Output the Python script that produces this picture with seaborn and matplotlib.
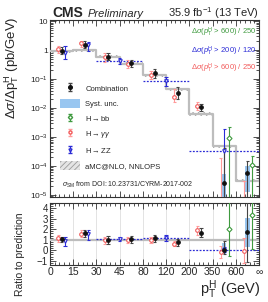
import numpy as np
import matplotlib
matplotlib.use("Agg")
import matplotlib.pyplot as plt
from matplotlib.patches import Patch, Rectangle
from matplotlib.ticker import MultipleLocator, FixedLocator, LogLocator, NullFormatter
import seaborn as sns

sns.set_theme(style="ticks")
plt.rcParams["font.family"] = ["Liberation Sans", "DejaVu Sans"]
plt.rcParams["mathtext.fontset"] = "custom"
plt.rcParams["mathtext.rm"] = "Liberation Sans"
plt.rcParams["mathtext.it"] = "Liberation Sans:italic"
plt.rcParams["mathtext.bf"] = "Liberation Sans:bold"
plt.rcParams["hatch.linewidth"] = 0.6

# =========================
# DATA
# =========================
edge_labels = ["0", "15", "30", "45", "80", "120", "200", "350", "600", "∞"]

# prediction per bin, last bin is sigma(pT>600)/250
pred = [0.9, 1.0, 0.6, 0.34, 0.137, 0.044, 0.0063, 4.8e-4, 3.1e-5]
pred_unc = [0.12, 0.12, 0.12, 0.12, 0.13, 0.13, 0.15, 0.15, 0.15]

# combination, main panel (nan = runs below the axis)
comb_main = [0.95, 1.52, 0.6, 0.36, 0.157, 0.033, 0.0106, 2.5e-5, 5.7e-5]
comb_main_hi = [1.3, 2.0, 0.8, 0.45, 0.22, 0.052, 0.0137, 4.2e-4, 1.5e-4]
comb_main_lo = [0.72, 1.17, 0.45, 0.27, 0.108, 0.02, 0.008, np.nan, np.nan]
comb_syst_bins = [7, 8]
comb_syst_main_hi = [5.3e-5, 1.0e-4]
comb_syst_main_lo = [np.nan, 1.3e-5]

# H->gamma gamma, main panel
gg_main = [1.1, 1.7, 0.56, 0.33, 0.14, 0.025, 0.012, np.nan, np.nan]
gg_main_hi = [1.4, 2.1, 0.77, 0.44, 0.19, 0.045, 0.0158, 1.9e-4, 3.0e-5]
gg_main_lo = [0.77, 1.3, 0.4, 0.24, 0.1, 0.016, 0.0087, np.nan, np.nan]

# H->ZZ, main panel (merged bins 30-80, 80-200, >200/120)
zz_lo_edge = [0, 1, 2, 4, 6]
zz_hi_edge = [1, 2, 4, 6, 9]
zz_pos = [0.65, 1.65, 3.0, 5.0, 7.5]
zz_main = [0.77, 1.5, 0.43, 0.087, 3.3e-4]
zz_main_hi = [1.37, 1.86, 0.53, 0.114, 1.9e-3]
zz_main_lo = [0.49, 0.96, 0.34, 0.059, np.nan]

# H->bb, main panel (350-600 and >600/250)
bb_pos = [7.72, 8.72]
bb_main = [9e-4, 1.1e-4]
bb_main_hi = [2.2e-3, 2.3e-4]
bb_main_lo = [np.nan, np.nan]

# ratio panel
comb_r = [1.07, 1.63, 1.0, 1.06, 1.16, 0.75, 1.69, 0.05, 1.78]
comb_r_hi = [1.31, 1.94, 1.38, 1.38, 1.47, 1.07, 2.1, 0.84, 5.0]
comb_r_lo = [0.78, 1.31, 0.62, 0.72, 0.78, 0.43, 1.25, -0.4, -1.1]
comb_syst_r_hi = [0.7, 3.05]
comb_syst_r_lo = [-0.35, 0.35]

gg_r = [1.16, 1.57, 1.0, 1.0, 1.0, 0.62, 1.94, -0.2, -0.05]
gg_r_hi = [1.47, 1.94, 1.31, 1.31, 1.3, 0.93, 2.35, 0.37, 1.16]
gg_r_lo = [0.78, 1.25, 0.62, 0.7, 0.7, 0.37, 1.47, -0.7, -1.2]

zz_r = [0.84, 1.57, 1.06, 1.16, 0.06]
zz_r_hi = [1.25, 1.94, 1.31, 1.47, 0.35]
zz_r_lo = [0.43, 1.0, 0.84, 0.84, -0.2]

bb_r = [2.03, 3.36]
bb_r_hi = [5.0, 5.0]
bb_r_lo = [-0.55, 0.12]

# =========================
# STYLE
# =========================
C_COMB = "#111111"
C_COMB_ERR = "#444444"
C_SYST = "#99c6f0"
C_GG = "#f25a5a"
C_GG_ERR = "#ff9a9a"
C_ZZ = "#2b2bd6"
C_BB = "#3f9a3f"
C_PRED = "#bdbdbd"
C_HATCH = "#9a9a9a"

centers = np.arange(9) + 0.5
edges = np.arange(10)


def draw_points(ax, x, y, lo, hi, color, ecolor, marker, filled, floor):
    x = np.asarray(x, float)
    lo = np.where(np.isnan(lo), floor, lo)
    ax.vlines(x, lo, hi, color=ecolor, lw=0.8, zorder=5)
    ax.hlines(hi, x - 0.07, x + 0.07, color=ecolor, lw=0.8, zorder=5)
    keep = lo > floor
    ax.hlines(lo[keep], x[keep] - 0.07, x[keep] + 0.07, color=ecolor, lw=0.8, zorder=5)
    ax.plot(x, y, ls="none", marker=marker, ms=2.6, mew=0.8, color=color,
            mfc=color if filled else "white", zorder=6)


def draw_pred(ax, vals, unc, log):
    vals = np.asarray(vals, float)
    unc = np.asarray(unc, float)
    ext = np.append(vals, vals[-1])
    if log:
        lo = np.append(vals / (1 + unc), vals[-1] / (1 + unc[-1]))
        hi = np.append(vals * (1 + unc), vals[-1] * (1 + unc[-1]))
    else:
        lo = np.append(vals - unc, vals[-1] - unc[-1])
        hi = np.append(vals + unc, vals[-1] + unc[-1])
    ax.fill_between(edges, lo, hi, step="post", facecolor="none",
                    edgecolor=C_HATCH, hatch="//////", lw=0, zorder=2)
    sns.lineplot(x=edges, y=ext, drawstyle="steps-post", color=C_PRED,
                 lw=1.6, ax=ax, zorder=3)


fig = plt.figure(figsize=(2.68, 3.02), dpi=100)
ax1 = fig.add_axes([0.1866, 0.3477, 0.7798, 0.5861])
ax2 = fig.add_axes([0.1866, 0.1225, 0.7798, 0.2053])

# =========================
# MAIN PANEL
# =========================
ax1.set_yscale("log")
FLOOR = 1e-9
draw_pred(ax1, pred, pred_unc, log=True)

for lo_e, hi_e, v in zip(zz_lo_edge[2:], zz_hi_edge[2:], zz_main[2:]):
    ax1.hlines(v, lo_e, hi_e, color=C_ZZ, lw=0.9, ls=(0, (1.5, 1.2)), zorder=4)

for b, shi, slo in zip(comb_syst_bins, comb_syst_main_hi, comb_syst_main_lo):
    slo = FLOOR if np.isnan(slo) else slo
    ax1.add_patch(Rectangle((centers[b] - 0.1, slo), 0.2, shi - slo,
                            facecolor=C_SYST, edgecolor="none", zorder=4))

draw_points(ax1, centers - 0.15, gg_main, np.array(gg_main_lo), gg_main_hi,
            C_GG, C_GG_ERR, "o", False, FLOOR)
draw_points(ax1, zz_pos, zz_main, np.array(zz_main_lo), zz_main_hi,
            C_ZZ, C_ZZ, "v", False, FLOOR)
draw_points(ax1, bb_pos, bb_main, np.array(bb_main_lo), bb_main_hi,
            C_BB, C_BB, "D", False, FLOOR)
draw_points(ax1, centers, comb_main, np.array(comb_main_lo), comb_main_hi,
            C_COMB, C_COMB_ERR, "o", True, FLOOR)

ax1.set_xlim(0, 9)
ax1.set_ylim(8.5e-6, 11)
ax1.set_xlabel("")
ax1.set_ylabel("")
ax1.yaxis.set_major_locator(FixedLocator([1e-5, 1e-4, 1e-3, 1e-2, 1e-1, 1, 10]))
ax1.set_yticklabels([r"$10^{-5}$", r"$10^{-4}$", r"$10^{-3}$", r"$10^{-2}$",
                     r"$10^{-1}$", "1", "10"])
ax1.yaxis.set_minor_locator(LogLocator(base=10, subs=np.arange(2, 10), numticks=20))
ax1.yaxis.set_minor_formatter(NullFormatter())
ax1.xaxis.set_major_locator(MultipleLocator(1))
ax1.xaxis.set_minor_locator(MultipleLocator(0.2))
ax1.set_xticklabels([])

# legend
h_comb = ax1.errorbar([np.nan], [np.nan], yerr=[[1], [1]], fmt="o", ms=2.6,
                      color=C_COMB, ecolor=C_COMB_ERR, elinewidth=0.8, capsize=1.5)
h_bb = ax1.errorbar([np.nan], [np.nan], yerr=[[1], [1]], fmt="D", ms=2.2,
                    color=C_BB, mfc="white", elinewidth=0.8, capsize=1.5)
h_gg = ax1.errorbar([np.nan], [np.nan], yerr=[[1], [1]], fmt="o", ms=2.2,
                    color=C_GG, mfc="white", ecolor=C_GG_ERR, elinewidth=0.8, capsize=1.5)
h_zz = ax1.errorbar([np.nan], [np.nan], yerr=[[1], [1]], fmt="v", ms=2.2,
                    color=C_ZZ, mfc="white", elinewidth=0.8, capsize=1.5)
h_syst = Patch(facecolor=C_SYST, edgecolor="none")
h_pred = Patch(facecolor="#e4e4e4", edgecolor=C_HATCH, hatch="//////", lw=0)
leg = ax1.legend([h_comb, h_syst, h_bb, h_gg, h_zz, h_pred],
                 ["Combination", "Syst. unc.", r"H$\rightarrow$bb",
                  r"H$\rightarrow\gamma\gamma$", r"H$\rightarrow$ZZ",
                  "aMC@NLO, NNLOPS"],
                 loc="upper left", bbox_to_anchor=(0.048, 0.64), frameon=False,
                 fontsize=5.5, handlelength=2.6, handleheight=1.4,
                 labelspacing=0.8, handletextpad=0.7, borderpad=0,
                 borderaxespad=0)

ax1.text(0.056, 0.068, r"$\sigma_{\rm SM}$ from DOI: 10.23731/CYRM-2017-002",
         transform=ax1.transAxes, fontsize=5, va="center", ha="left")

ax1.text(0.99, 0.932, r"$\Delta\sigma(p_{\rm T}^{\rm H}$ > 600) / 250",
         transform=ax1.transAxes, color=C_BB, fontsize=5.5, ha="right", va="center")
ax1.text(0.99, 0.821, r"$\Delta\sigma(p_{\rm T}^{\rm H}$ > 200) / 120",
         transform=ax1.transAxes, color=C_ZZ, fontsize=5.5, ha="right", va="center")
ax1.text(0.99, 0.727, r"$\Delta\sigma(p_{\rm T}^{\rm H}$ > 600) / 250",
         transform=ax1.transAxes, color=C_GG, fontsize=5.5, ha="right", va="center")

# =========================
# RATIO PANEL
# =========================
ratio_unc = [0.12] * 9
draw_pred(ax2, [1.0] * 9, ratio_unc, log=False)

for lo_e, hi_e, v in zip(zz_lo_edge[2:], zz_hi_edge[2:], zz_r[2:]):
    ax2.hlines(v, lo_e, hi_e, color=C_ZZ, lw=0.9, ls=(0, (1.5, 1.2)), zorder=4)

for b, shi, slo in zip(comb_syst_bins, comb_syst_r_hi, comb_syst_r_lo):
    ax2.add_patch(Rectangle((centers[b] - 0.1, slo), 0.2, shi - slo,
                            facecolor=C_SYST, edgecolor="none", zorder=4))

draw_points(ax2, centers - 0.15, gg_r, np.array(gg_r_lo), gg_r_hi,
            C_GG, C_GG_ERR, "o", False, -99)
draw_points(ax2, zz_pos, zz_r, np.array(zz_r_lo), zz_r_hi,
            C_ZZ, C_ZZ, "v", False, -99)
draw_points(ax2, bb_pos, bb_r, np.array(bb_r_lo), bb_r_hi,
            C_BB, C_BB, "D", False, -99)
draw_points(ax2, centers, comb_r, np.array(comb_r_lo), comb_r_hi,
            C_COMB, C_COMB_ERR, "o", True, -99)

ax2.set_xlim(0, 9)
ax2.set_ylim(-1.4, 4.5)
ax2.set_xlabel("")
ax2.set_ylabel("")
ax2.xaxis.set_major_locator(FixedLocator(edges))
ax2.set_xticklabels(edge_labels)
ax2.xaxis.set_minor_locator(MultipleLocator(0.2))
ax2.yaxis.set_major_locator(MultipleLocator(1))
ax2.yaxis.set_minor_locator(MultipleLocator(0.2))
ax2.grid(axis="x", which="major", color="#dedede", lw=0.6, zorder=0)

for ax in (ax1, ax2):
    ax.tick_params(which="both", direction="in", top=True, right=True,
                   width=0.6, color="#333333")
    ax.tick_params(which="major", length=4)
    ax.tick_params(which="minor", length=2)
    for sp in ax.spines.values():
        sp.set_color("#333333")
        sp.set_linewidth(0.8)
ax1.tick_params(axis="y", labelsize=6, pad=1.5)
ax2.tick_params(axis="y", labelsize=7, pad=1.5)
ax2.tick_params(axis="x", labelsize=7.5, pad=1.5)

# =========================
# TITLES / AXIS LABELS
# =========================
fig.text(0.194, 0.944, "CMS", fontsize=10, fontweight="bold", va="baseline")
fig.text(0.328, 0.944, "Preliminary", fontsize=8, style="italic", va="baseline")
fig.text(0.966, 0.944, r"35.9 fb$^{-1}$ (13 TeV)", fontsize=8, ha="right",
         va="baseline")
fig.text(0.045, 0.944, r"$\Delta\sigma/\Delta\mathrm{p}_{\mathrm{T}}^{\mathrm{H}}$ (pb/GeV)",
         rotation=90, ha="center", va="top", fontsize=9.5)
fig.text(0.075, 0.298, "Ratio to prediction", rotation=90, ha="center",
         va="top", fontsize=7.5)
fig.text(0.97, 0.004, r"$\mathrm{p}_{\mathrm{T}}^{\mathrm{H}}$ (GeV)", ha="right",
         va="bottom", fontsize=10.5)

fig.savefig("out.png", dpi=100)
plt.close(fig)
